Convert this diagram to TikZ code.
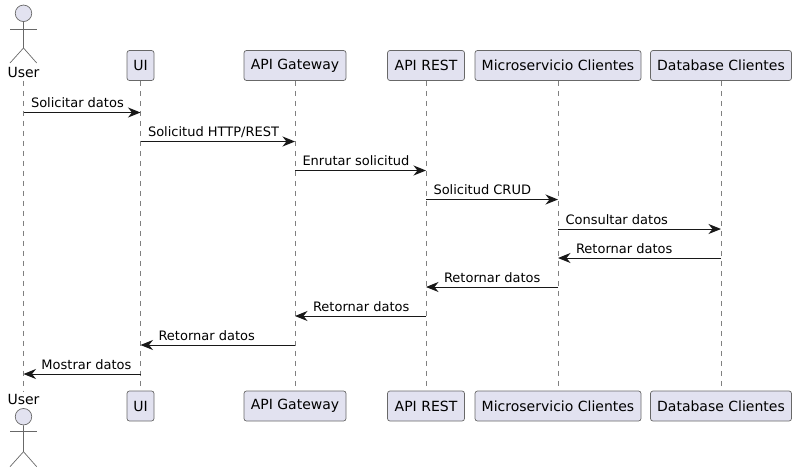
\documentclass[tikz,border=0pt]{standalone}
\usepackage{fontspec}
\setmainfont{DejaVu Sans}
\usetikzlibrary{arrows.meta}
\definecolor{boxfill}{HTML}{E2E2F0}
\definecolor{ink}{HTML}{181818}
\definecolor{edge}{HTML}{686868}
\definecolor{dash}{HTML}{808080}
\begin{document}
\begin{tikzpicture}[x=1pt,y=-1pt,node distance=100pt,font=\fontsize{14}{16}\selectfont]

    % Definitions
    \tikzstyle{Box} = [rectangle, rounded corners=2.5pt, minimum height=30pt, inner sep=0pt, text=black, text centered, draw=edge, line width=0.7pt, fill=boxfill]
    \tikzstyle{Name} = [inner sep=0pt, minimum height=16pt, text=black]
    \tikzstyle{Head} = [circle, inner sep=0pt, minimum size=16.5pt, draw=edge, line width=0.7pt, fill=boxfill]
    \tikzstyle{stick} = [draw=edge, line width=0.7pt]
    \tikzstyle{life} = [draw=dash, line width=0.7pt, dash pattern=on 5pt off 5pt]
    \tikzstyle{arrow} = [draw=ink, line width=1pt, -{Stealth[length=12.5pt, width=10pt, inset=4pt]}]
    \tikzstyle{msg} = [anchor=base west, inner sep=0pt, text=black, yshift=5pt, font=\fontsize{13}{15}\selectfont]

    \useasboundingbox (0,0) rectangle (798,472);

    % Top row
    \node (User) [Name] at (23.5,72.5) {User};
    \node (UI) [Box, minimum width=27pt] at (140.5,65.5) {UI};
    \node (GW) [Box, minimum width=102pt, right of=UI, xshift=54.5] {API Gateway};
    \node (REST) [Box, minimum width=77pt, right of=GW, xshift=31] {API REST};
    \node (MS) [Box, minimum width=166pt, right of=REST, xshift=32] {Microservicio Clientes};
    \node (DB) [Box, minimum width=141pt, right of=MS, xshift=63] {Database Clientes};

    % Bottom row
    \node (Userb) [Name] at (23.5,399.5) {User};
    \node (UIb) [Box, minimum width=27pt, below of=UI, yshift=-240.5] {UI};
    \node (GWb) [Box, minimum width=102pt, below of=GW, yshift=-240.5] {API Gateway};
    \node (RESTb) [Box, minimum width=77pt, below of=REST, yshift=-240.5] {API REST};
    \node (MSb) [Box, minimum width=166pt, below of=MS, yshift=-240.5] {Microservicio Clientes};
    \node (DBb) [Box, minimum width=141pt, below of=DB, yshift=-240.5] {Database Clientes};

    % Actors
    \node (Head) [Head] at (23.5,13.3) {};
    \draw [stick] (Head.south) -- (23.5,48) -- (10,63);
    \draw [stick] (23.5,48) -- (36.7,63);
    \draw [stick] (10,29) -- (36.7,29);
    \node (Headb) [Head] at (23.5,416.7) {};
    \draw [stick] (Headb.south) -- (23.5,451.7) -- (10,466.7);
    \draw [stick] (23.5,451.7) -- (36.7,466.7);
    \draw [stick] (10,431.7) -- (36.7,431.7);

    % Lifelines
    \draw [life] (User) -- (Userb);
    \draw [life] (UI) -- (UIb);
    \draw [life] (GW) -- (GWb);
    \draw [life] (REST) -- (RESTb);
    \draw [life] (MS) -- (MSb);
    \draw [life] (DB) -- (DBb);

    % Message rows
    \coordinate (r1) at (0,112.5);
    \coordinate (r2) at (0,141.5);
    \coordinate (r3) at (0,170.5);
    \coordinate (r4) at (0,199.5);
    \coordinate (r5) at (0,229);
    \coordinate (r6) at (0,258);
    \coordinate (r7) at (0,287);
    \coordinate (r8) at (0,316);
    \coordinate (r9) at (0,345);
    \coordinate (r10) at (0,374);

    \draw [arrow] (User |- r1) -- node[msg, pos=0, xshift=7] {Solicitar datos} (UI |- r1);
    \draw [arrow] (UI |- r2) -- node[msg, pos=0, xshift=7] {Solicitud HTTP/REST} (GW |- r2);
    \draw [arrow] (GW |- r3) -- node[msg, pos=0, xshift=7] {Enrutar solicitud} (REST |- r3);
    \draw [arrow] (REST |- r4) -- node[msg, pos=0, xshift=7] {Solicitud CRUD} (MS |- r4);
    \draw [arrow] (MS |- r5) -- node[msg, pos=0, xshift=7] {Consultar datos} (DB |- r5);
    \draw [arrow] (DB |- r6) -- node[msg, pos=1, xshift=17.5] {Retornar datos} (MS |- r6);
    \draw [arrow] (MS |- r7) -- node[msg, pos=1, xshift=17.5] {Retornar datos} (REST |- r7);
    \draw [arrow] (REST |- r8) -- node[msg, pos=1, xshift=17.5] {Retornar datos} (GW |- r8);
    \draw [arrow] (GW |- r9) -- node[msg, pos=1, xshift=17.5] {Retornar datos} (UI |- r9);
    \draw [arrow] (UI |- r10) -- node[msg, pos=1, xshift=17.5] {Mostrar datos} (User |- r10);

\end{tikzpicture}
\end{document}
